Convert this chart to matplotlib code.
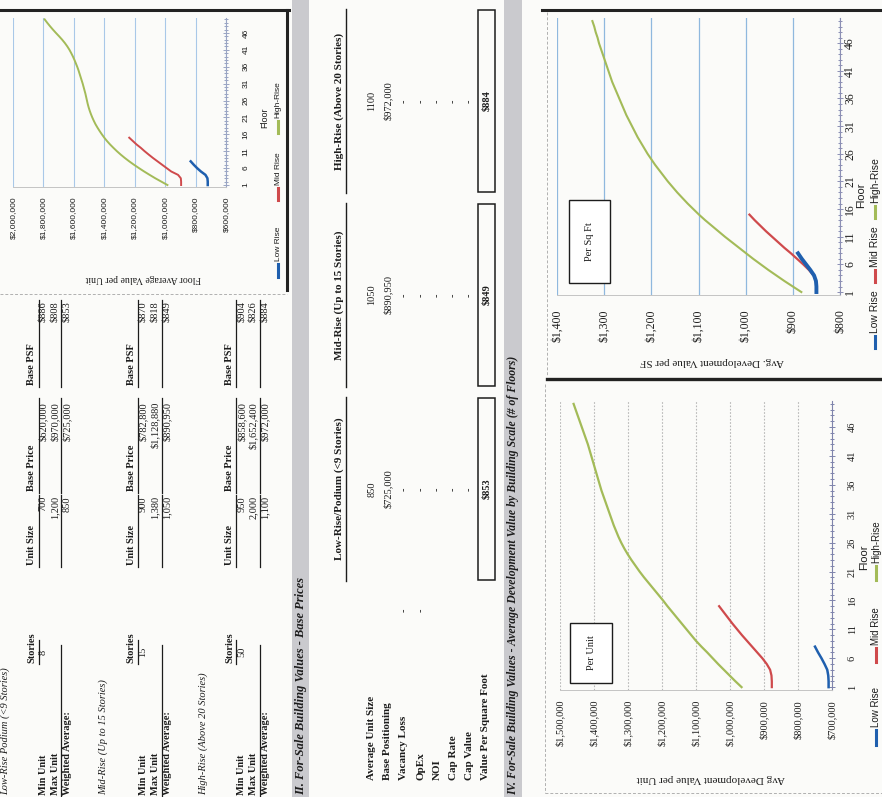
import numpy as np
import matplotlib
matplotlib.use("Agg")
import matplotlib.pyplot as plt
from matplotlib.lines import Line2D
from matplotlib.patches import Rectangle
from matplotlib.ticker import FuncFormatter, MultipleLocator

W, H = 882, 797

# ---------------- data ----------------
floors_low = list(range(1, 9))
floors_mid = list(range(1, 16))
floors_high = list(range(1, 51))

# floor average value per unit (top-left chart)
floor_value_low = [720000, 720000, 722000, 735000, 765000, 790000, 812000, 832000]
floor_value_mid = [895000, 895000, 897000, 915000, 960000, 990000, 1020000, 1050000,
                   1080000, 1108000, 1135000, 1160000, 1188000, 1212000, 1236000]
floor_value_high = [985000, 1025000, 1065000, 1102000, 1138000, 1172000, 1205000, 1236000,
                    1265000, 1292000, 1317000, 1340000, 1362000, 1382000, 1400000, 1416000,
                    1431000, 1445000, 1458000, 1469000, 1479000, 1488000, 1496000, 1503000,
                    1509000, 1514000, 1519000, 1524000, 1530000, 1536000, 1542000, 1549000,
                    1556000, 1563000, 1570000, 1578000, 1587000, 1596000, 1606000, 1617000,
                    1629000, 1643000, 1659000, 1677000, 1697000, 1718000, 1738000, 1757000,
                    1775000, 1792000]

# avg development value per unit (bottom-right chart)
avg_unit_low = [710000, 710000, 711000, 714000, 722000, 731000, 741000, 750000]
avg_unit_mid = [877000, 877000, 878000, 882000, 892000, 905000, 920000, 935000,
                950000, 965000, 979000, 993000, 1006000, 1019000, 1032000]
avg_unit_high = [966000, 984000, 1001000, 1018000, 1035000, 1051000, 1067000, 1084000,
                 1100000, 1114000, 1128000, 1142000, 1156000, 1170000, 1184000, 1197000,
                 1211000, 1225000, 1239000, 1253000, 1266000, 1278000, 1290000, 1301000,
                 1311000, 1320000, 1328000, 1335000, 1342000, 1348000, 1354000, 1360000,
                 1366000, 1372000, 1378000, 1383000, 1388000, 1393000, 1398000, 1403000,
                 1408000, 1413000, 1418000, 1424000, 1430000, 1436000, 1442000, 1448000,
                 1454000, 1460000]

# avg development value per SF (top-right chart)
avg_psf_low = [850, 850, 851, 855, 863, 872, 881, 889]
avg_psf_mid = [850, 850, 851, 856, 866, 878, 891, 904, 918, 931, 944, 957, 969, 981, 992]
avg_psf_high = [882, 900, 918, 935, 952, 968, 984, 999, 1014, 1029, 1044, 1058, 1072,
                1086, 1099, 1111, 1123, 1134, 1145, 1155, 1165, 1174, 1183, 1192, 1200,
                1208, 1215, 1222, 1229, 1235, 1241, 1247, 1253, 1258, 1263, 1268, 1273,
                1278, 1283, 1287, 1291, 1295, 1299, 1303, 1307, 1311, 1314, 1318, 1321, 1325]

series_names = ["Low Rise", "Mid Rise", "High-Rise"]

# section I tables
scale_titles = ["Low-Rise Podium (<9 Stories)", "Mid-Rise (Up to 15 Stories)",
                "High-Rise (Above 20 Stories)"]
stories = [8, 15, 50]
unit_size_min = [700, 900, 950]
unit_size_max = [1200, 1380, 2000]
unit_size_avg = [850, 1050, 1100]
price_min = [620000, 782800, 858600]
price_max = [970000, 1128880, 1652400]
price_avg = [725000, 890950, 972000]
psf_min = [886, 870, 904]
psf_max = [808, 818, 826]
psf_avg = [853, 849, 884]

# section II table
summary_rows = ["Average Unit Size", "Base Positioning", "Vacancy Loss", "OpEx", "NOI",
                "Cap Rate", "Cap Value", "Value Per Square Foot"]
summary_cols = ["Low-Rise/Podium (<9 Stories)", "Mid-Rise (Up to 15 Stories)",
                "High-Rise (Above 20 Stories)"]
summary_unit_size = ["850", "1050", "1100"]
summary_positioning = ["$725,000", "$890,950", "$972,000"]
summary_psf = ["$853", "$849", "$884"]

# ---------------- helpers (image pixel coords, page turned on its side) ----------------
INK = "#1c1c1c"
SERIF = ["Liberation Serif", "DejaVu Serif"]
NARROW = ["Liberation Sans Narrow", "Liberation Sans", "DejaVu Sans"]
BLUE, RED, GREEN = "#1f5fae", "#cf4a4c", "#a3bb58"

fig = plt.figure(figsize=(W / 100, H / 100), dpi=100)
fig.patch.set_facecolor("#fbfbf9")


def put(x, y, s, size=7.5, va="center", ha="center", rot=90, weight="normal",
        style="normal", family=SERIF, color=INK):
    return fig.text(x / W, 1 - y / H, s, rotation=rot, ha=ha, va=va, fontsize=size,
                    fontweight=weight, fontstyle=style, family=family, color=color)


def seg(x0, y0, x1, y1, lw=0.8, color=INK, ls="-"):
    fig.add_artist(Line2D([x0 / W, x1 / W], [1 - y0 / H, 1 - y1 / H],
                          transform=fig.transFigure, lw=lw, color=color, ls=ls))


def rect(x0, y0, x1, y1, fc="none", ec="none", lw=0):
    fig.add_artist(Rectangle((x0 / W, 1 - y1 / H), (x1 - x0) / W, (y1 - y0) / H,
                             transform=fig.transFigure, fc=fc, ec=ec, lw=lw))


def money(v, pos=None):
    return f"${v:,.0f}"


def chart(x0, y0, x1, y1, vmax, vmin, vstep, family, tsize, xpad, ypad, grid_kw, axcolor):
    ax = fig.add_axes([x0 / W, 1 - y1 / H, (x1 - x0) / W, (y1 - y0) / H])
    ax.patch.set_alpha(0)
    ax.set_xlim(vmax, vmin)
    ax.set_ylim(0.5, 50.5)
    ax.set_xticks(np.arange(vmin, vmax + 1, vstep))
    ax.xaxis.set_major_formatter(FuncFormatter(money))
    ax.set_yticks(list(range(1, 51, 5)))
    ax.yaxis.set_minor_locator(MultipleLocator(1))
    ax.yaxis.tick_right()
    ax.tick_params(axis="x", length=0, pad=xpad, labelsize=tsize, labelrotation=90,
                   labelfontfamily=family, labelcolor=INK)
    ax.tick_params(axis="y", which="both", direction="inout", color=axcolor, width=0.7)
    ax.tick_params(axis="y", which="major", length=4, pad=ypad, labelsize=tsize,
                   labelrotation=90, labelfontfamily=family, labelcolor=INK)
    ax.tick_params(axis="y", which="minor", length=3)
    plt.setp(ax.get_yticklabels(), va="center")
    for s in ("top", "left"):
        ax.spines[s].set_visible(False)
    ax.spines["right"].set_color(axcolor)
    ax.spines["bottom"].set_color("#c4c4c4")
    ax.spines["bottom"].set_linewidth(0.7)
    ax.grid(axis="x", **grid_kw)
    ax.set_axisbelow(True)
    return ax


def legend(x, spans, size):
    colors = [BLUE, RED, GREEN]
    for (l0, l1, t0), name, c in zip(spans, series_names, colors):
        seg(x, l0, x, l1, lw=2.2, color=c)
        put(x, t0, name, size=size, va="bottom", family=NARROW)


# ---------------- borders and section bands ----------------
rect(292, 0, 309, H, fc="#cacace")
rect(504, 0, 522, H, fc="#cacace")
put(301, 795, "II. For-Sale Building Values - Base Prices", size=9, va="bottom",
    weight="bold", style="italic")
put(513, 795, "IV. For-Sale Building Values - Average Development Value by Building "
    "Scale (# of Floors)", size=8.5, va="bottom", weight="bold", style="italic")

seg(0, 10, 289, 10, lw=2.2, color="#222222")
seg(287, 10, 287, 290, lw=2.2, color="#222222")
seg(0, 294, 287, 294, lw=0.7, color="#b0b0b0", ls=(0, (3, 2)))
seg(542, 10, W, 10, lw=2.2, color="#222222")
seg(547, 379, W, 379, lw=2.4, color="#222222")
seg(547, 12, 547, 376, lw=0.7, color="#b0b0b0", ls=(0, (3, 2)))
seg(545, 384, 545, 793, lw=0.7, color="#b0b0b0", ls=(0, (3, 2)))
seg(545, 793, W, 793, lw=0.7, color="#b0b0b0", ls=(0, (3, 2)))

# ---------------- section I tables ----------------
title_x = [5, 103, 203]
head_x = [32, 131, 230]
row_x = [[43, 55, 67], [143, 155, 167], [242, 253, 265]]
col_spans = [(567, 495), (493, 398), (387, 300)]
for b in range(3):
    put(title_x[b], 795, scale_titles[b], size=7.5, va="bottom", style="italic")
    hx = head_x[b]
    mn, mx, av = row_x[b]
    put(hx, 663, "Stories", size=7.5, va="bottom", weight="bold")
    seg(hx + 6.5, 664, hx + 6.5, 640, lw=0.9)
    put(mn, 652, str(stories[b]), size=7.5)
    for (s0, s1), head in zip(col_spans, ["Unit Size", "Base Price", "Base PSF"]):
        put(hx, s0 - 2, head, size=7.5, va="bottom", weight="bold")
        seg(hx + 6.5, s0, hx + 6.5, s1, lw=0.9)
        seg(mx + 6.5, s0, mx + 6.5, s1, lw=0.9)
    for x, lab, us, pr, ps in zip(
            (mn, mx, av), ["Min Unit", "Max Unit", "Weighted Average:"],
            (unit_size_min[b], unit_size_max[b], unit_size_avg[b]),
            (price_min[b], price_max[b], price_avg[b]),
            (psf_min[b], psf_max[b], psf_avg[b])):
        put(x, 795, lab, size=7.5, va="bottom", weight="bold")
        put(x, 496, f"{us:,}", size=7.5, va="top")
        put(x, 402, f"${pr:,}", size=7.5, va="top")
        put(x, 301, f"${ps:,}", size=7.5, va="top")
    seg(mx + 6.5, 797, mx + 6.5, 645, lw=0.9)

# ---------------- section II table ----------------
row_xs = [372, 388, 404, 421, 437, 453, 469, 486]
for x, lab in zip(row_xs, summary_rows):
    put(x, 780, lab, size=8, va="bottom", weight="bold")
put(404, 610, "-", size=7.5)
put(421, 610, "-", size=7.5)
col_centers = [489, 295, 101]
for c, head, us, pos, psf in zip(col_centers, summary_cols, summary_unit_size,
                                 summary_positioning, summary_psf):
    put(339, c, head, size=8, weight="bold")
    seg(346, c + 92, 346, c - 92, lw=1.0)
    put(372, c, us, size=7.5)
    put(388, c, pos, size=7.5)
    for x in row_xs[2:7]:
        put(x, c, "-", size=7.5)
    rect(478, c - 91, 495, c + 91, ec=INK, lw=1.1)
    put(487, c, psf, size=7.5, weight="bold")

# ---------------- chart: floor average value per unit ----------------
ax1 = chart(13, 17.7, 226, 186.7, 2000000, 600000, 200000, NARROW, 6, 7, 10,
            dict(color="#a9c8e8", lw=0.8), "#9aa5c4")
ax1.plot(floor_value_mid, floors_mid, color=RED, lw=1.4)
ax1.plot(floor_value_low, floors_low, color=BLUE, lw=1.8)
ax1.plot(floor_value_high, floors_high, color=GREEN, lw=1.4)
put(265, 118, "Floor", size=6.5, family=NARROW)
put(143, 279, "Floor Average Value per Unit", size=7, rot=180)
legend(278, [(277, 264, 261), (200, 188, 185), (133, 121, 118)], 6)

# ---------------- chart: avg development value per SF ----------------
ax2 = chart(557, 18.3, 840, 294.8, 1400, 800, 100, SERIF, 8.5, 10.5, 1,
            dict(color="#8fb8de", lw=0.9), "#8c8fb4")
ax2.plot(avg_psf_high, floors_high, color=GREEN, lw=1.5)
ax2.plot(avg_psf_mid, floors_mid, color=RED, lw=1.6)
ax2.plot(avg_psf_low, floors_low, color=BLUE, lw=2.8)
rect(569, 200, 610, 283, fc="white", ec=INK, lw=1.0)
put(590, 242, "Per Sq Ft", size=7.5)
put(861, 195, "Floor", size=8, family=NARROW)
put(712, 361, "Avg. Development Value per SF", size=8, rot=180)
legend(875, [(348, 336, 333), (282, 270, 267), (218, 206, 203)], 7.5)

# ---------------- chart: avg development value per unit ----------------
ax3 = chart(560, 401, 832, 690, 1500000, 700000, 100000, SERIF, 7.5, 7.2, 9.3,
            dict(color="#b9b9b9", lw=0.8, ls=(0, (1.5, 1.5))), "#7f84ac")
ax3.plot(avg_unit_high, floors_high, color=GREEN, lw=1.6)
ax3.plot(avg_unit_mid, floors_mid, color=RED, lw=1.6)
ax3.plot(avg_unit_low, floors_low, color=BLUE, lw=1.8)
rect(570, 623, 612, 683, fc="white", ec=INK, lw=1.0)
put(591, 653, "Per Unit", size=7.5)
put(864, 557, "Floor", size=8, family=NARROW)
put(711, 778, "Avg Development Value per Unit", size=8, rot=180)
legend(876, [(745, 730, 727), (662, 648, 645), (580, 566, 563)], 7)

fig.savefig("out.png", dpi=100, facecolor=fig.get_facecolor())
